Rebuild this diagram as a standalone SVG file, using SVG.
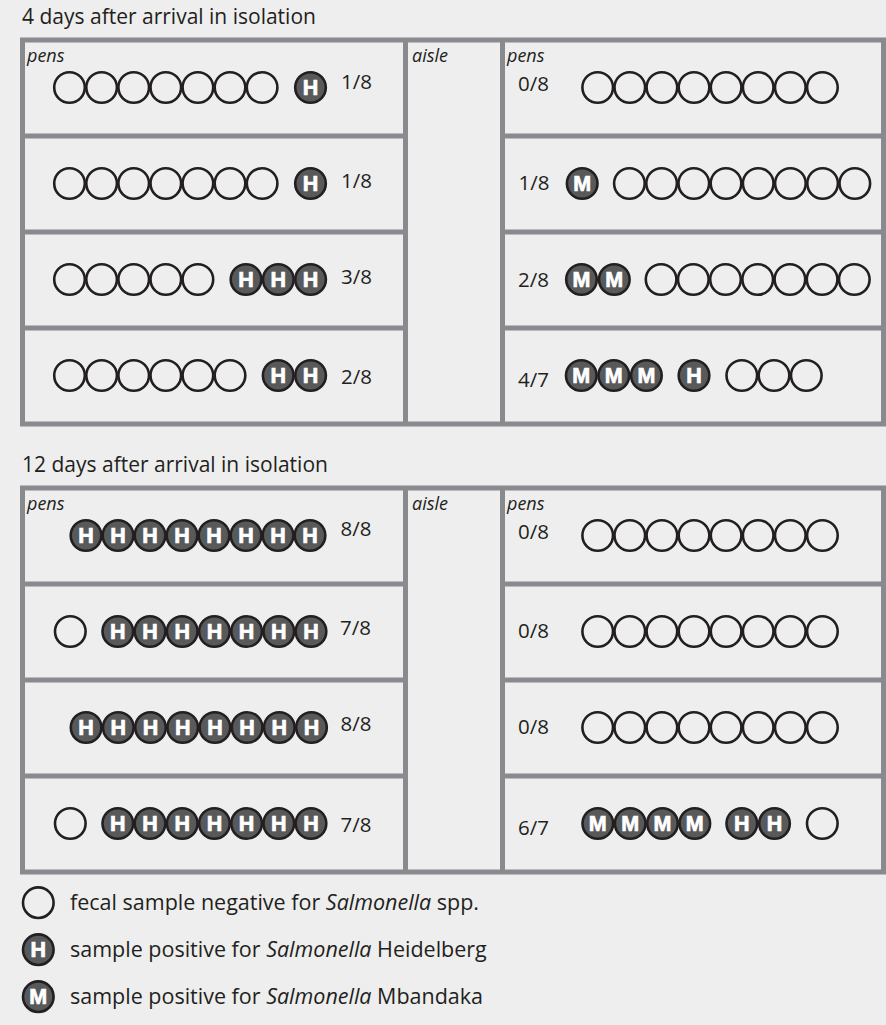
<svg xmlns="http://www.w3.org/2000/svg" width="886" height="1025" viewBox="0 0 886 1025">
<style>
.bg{fill:#eeeeee}
.fr{fill:none;stroke:#898a8d;stroke-width:5}
.n{fill:none;stroke:#231f20;stroke-width:2.6}
.p{fill:#58595b;stroke:#231f20;stroke-width:2.6}
.l{font-family:"Liberation Sans",Arial,sans-serif;font-weight:bold;font-size:21.5px;fill:#ffffff;stroke:#ffffff;stroke-width:0.7;text-anchor:middle}
.t{font-family:"Open Sans","Noto Sans",sans-serif;font-size:21px;fill:#231f20}
.g{font-family:"Open Sans","Noto Sans",sans-serif;font-size:21.5px;fill:#231f20}
.f{font-family:"Open Sans","Noto Sans",sans-serif;font-size:20.5px;fill:#231f20}
.i{font-family:"Open Sans","Noto Sans",sans-serif;font-size:18px;font-style:italic;fill:#231f20}
.it{font-style:italic}
</style>
<rect class="bg" x="0" y="0" width="886" height="1025"/>

<g id="titles">
<text class="t" x="22" y="23.5">4 days after arrival in isolation</text>
<text class="t" x="22" y="472">12 days after arrival in isolation</text>
</g>

<g id="frames">
<rect class="fr" x="22.5" y="40" width="861" height="384"/>
<line class="fr" x1="405.5" y1="40" x2="405.5" y2="424"/>
<line class="fr" x1="502.5" y1="40" x2="502.5" y2="424"/>
<line class="fr" x1="22.5" y1="136" x2="405.5" y2="136"/>
<line class="fr" x1="22.5" y1="232" x2="405.5" y2="232"/>
<line class="fr" x1="22.5" y1="328" x2="405.5" y2="328"/>
<line class="fr" x1="502.5" y1="136" x2="883.5" y2="136"/>
<line class="fr" x1="502.5" y1="232" x2="883.5" y2="232"/>
<line class="fr" x1="502.5" y1="328" x2="883.5" y2="328"/>
<rect class="fr" x="22.5" y="488" width="861" height="384"/>
<line class="fr" x1="405.5" y1="488" x2="405.5" y2="872"/>
<line class="fr" x1="502.5" y1="488" x2="502.5" y2="872"/>
<line class="fr" x1="22.5" y1="584" x2="405.5" y2="584"/>
<line class="fr" x1="22.5" y1="680" x2="405.5" y2="680"/>
<line class="fr" x1="22.5" y1="776" x2="405.5" y2="776"/>
<line class="fr" x1="502.5" y1="584" x2="883.5" y2="584"/>
<line class="fr" x1="502.5" y1="680" x2="883.5" y2="680"/>
<line class="fr" x1="502.5" y1="776" x2="883.5" y2="776"/>
<text class="i" x="27" y="61.5">pens</text>
<text class="i" x="412" y="61.5">aisle</text>
<text class="i" x="507" y="61.5">pens</text>
<text class="i" x="27" y="509.5">pens</text>
<text class="i" x="412" y="509.5">aisle</text>
<text class="i" x="507" y="509.5">pens</text>
</g>

<!-- 4 days, left pens -->
<g id="d4-left-1">
<circle class="n" cx="69.5" cy="87.5" r="15.3"/><circle class="n" cx="101.6" cy="87.5" r="15.3"/><circle class="n" cx="133.7" cy="87.5" r="15.3"/><circle class="n" cx="165.8" cy="87.5" r="15.3"/><circle class="n" cx="197.9" cy="87.5" r="15.3"/><circle class="n" cx="230" cy="87.5" r="15.3"/><circle class="n" cx="262.1" cy="87.5" r="15.3"/>
<circle class="p" cx="310.5" cy="87.5" r="15.3"/><text class="l" x="310.5" y="95.2">H</text>
<text class="f" x="341" y="88.5">1/8</text>
</g>
<g id="d4-left-2">
<circle class="n" cx="69.5" cy="183.5" r="15.3"/><circle class="n" cx="101.6" cy="183.5" r="15.3"/><circle class="n" cx="133.7" cy="183.5" r="15.3"/><circle class="n" cx="165.8" cy="183.5" r="15.3"/><circle class="n" cx="197.9" cy="183.5" r="15.3"/><circle class="n" cx="230" cy="183.5" r="15.3"/><circle class="n" cx="262.1" cy="183.5" r="15.3"/>
<circle class="p" cx="310.5" cy="183.5" r="15.3"/><text class="l" x="310.5" y="191.2">H</text>
<text class="f" x="341" y="187.5">1/8</text>
</g>
<g id="d4-left-3">
<circle class="n" cx="69.5" cy="279.5" r="15.3"/><circle class="n" cx="101.6" cy="279.5" r="15.3"/><circle class="n" cx="133.7" cy="279.5" r="15.3"/><circle class="n" cx="165.8" cy="279.5" r="15.3"/><circle class="n" cx="197.9" cy="279.5" r="15.3"/>
<circle class="p" cx="246" cy="279.5" r="15.3"/><text class="l" x="246" y="287.2">H</text>
<circle class="p" cx="278.3" cy="279.5" r="15.3"/><text class="l" x="278.3" y="287.2">H</text>
<circle class="p" cx="310.6" cy="279.5" r="15.3"/><text class="l" x="310.6" y="287.2">H</text>
<text class="f" x="341" y="283.5">3/8</text>
</g>
<g id="d4-left-4">
<circle class="n" cx="69.5" cy="375.5" r="15.3"/><circle class="n" cx="101.6" cy="375.5" r="15.3"/><circle class="n" cx="133.7" cy="375.5" r="15.3"/><circle class="n" cx="165.8" cy="375.5" r="15.3"/><circle class="n" cx="197.9" cy="375.5" r="15.3"/><circle class="n" cx="230" cy="375.5" r="15.3"/>
<circle class="p" cx="278.2" cy="375.5" r="15.3"/><text class="l" x="278.2" y="383.2">H</text>
<circle class="p" cx="310.6" cy="375.5" r="15.3"/><text class="l" x="310.6" y="383.2">H</text>
<text class="f" x="341" y="383.5">2/8</text>
</g>

<!-- 4 days, right pens -->
<g id="d4-right-1">
<text class="f" x="518" y="91">0/8</text>
<circle class="n" cx="597.7" cy="87.5" r="15.3"/><circle class="n" cx="629.8" cy="87.5" r="15.3"/><circle class="n" cx="661.9" cy="87.5" r="15.3"/><circle class="n" cx="694" cy="87.5" r="15.3"/><circle class="n" cx="726.1" cy="87.5" r="15.3"/><circle class="n" cx="758.2" cy="87.5" r="15.3"/><circle class="n" cx="790.3" cy="87.5" r="15.3"/><circle class="n" cx="822.4" cy="87.5" r="15.3"/>
</g>
<g id="d4-right-2">
<text class="f" x="518.5" y="190">1/8</text>
<circle class="p" cx="582.2" cy="183.5" r="15.3"/><text class="l" x="582.2" y="191.2">M</text>
<circle class="n" cx="629.4" cy="183.5" r="15.3"/><circle class="n" cx="661.6" cy="183.5" r="15.3"/><circle class="n" cx="693.8" cy="183.5" r="15.3"/><circle class="n" cx="726" cy="183.5" r="15.3"/><circle class="n" cx="758.2" cy="183.5" r="15.3"/><circle class="n" cx="790.4" cy="183.5" r="15.3"/><circle class="n" cx="822.6" cy="183.5" r="15.3"/><circle class="n" cx="854.8" cy="183.5" r="15.3"/>
</g>
<g id="d4-right-3">
<text class="f" x="518" y="286.5">2/8</text>
<circle class="p" cx="581.5" cy="279.5" r="15.3"/><text class="l" x="581.5" y="287.2">M</text>
<circle class="p" cx="614.3" cy="279.5" r="15.3"/><text class="l" x="614.3" y="287.2">M</text>
<circle class="n" cx="661.1" cy="279.5" r="15.3"/><circle class="n" cx="693.3" cy="279.5" r="15.3"/><circle class="n" cx="725.5" cy="279.5" r="15.3"/><circle class="n" cx="757.7" cy="279.5" r="15.3"/><circle class="n" cx="789.9" cy="279.5" r="15.3"/><circle class="n" cx="822.1" cy="279.5" r="15.3"/><circle class="n" cx="854.3" cy="279.5" r="15.3"/>
</g>
<g id="d4-right-4">
<text class="f" x="518" y="387">4/7</text>
<circle class="p" cx="581.3" cy="375.5" r="15.3"/><text class="l" x="581.3" y="383.2">M</text>
<circle class="p" cx="613.8" cy="375.5" r="15.3"/><text class="l" x="613.8" y="383.2">M</text>
<circle class="p" cx="646.4" cy="375.5" r="15.3"/><text class="l" x="646.4" y="383.2">M</text>
<circle class="p" cx="694" cy="375.5" r="15.3"/><text class="l" x="694" y="383.2">H</text>
<circle class="n" cx="741.8" cy="375.5" r="15.3"/><circle class="n" cx="774" cy="375.5" r="15.3"/><circle class="n" cx="806.3" cy="375.5" r="15.3"/>
</g>

<!-- 12 days, left pens -->
<g id="d12-left-1">
<circle class="p" cx="86" cy="535.5" r="15.3"/><text class="l" x="86" y="543.2">H</text>
<circle class="p" cx="118" cy="535.5" r="15.3"/><text class="l" x="118" y="543.2">H</text>
<circle class="p" cx="150" cy="535.5" r="15.3"/><text class="l" x="150" y="543.2">H</text>
<circle class="p" cx="182" cy="535.5" r="15.3"/><text class="l" x="182" y="543.2">H</text>
<circle class="p" cx="214" cy="535.5" r="15.3"/><text class="l" x="214" y="543.2">H</text>
<circle class="p" cx="246" cy="535.5" r="15.3"/><text class="l" x="246" y="543.2">H</text>
<circle class="p" cx="278" cy="535.5" r="15.3"/><text class="l" x="278" y="543.2">H</text>
<circle class="p" cx="310" cy="535.5" r="15.3"/><text class="l" x="310" y="543.2">H</text>
<text class="f" x="340.5" y="536">8/8</text>
</g>
<g id="d12-left-2">
<circle class="n" cx="70.3" cy="631.5" r="15.3"/>
<circle class="p" cx="117.8" cy="631.5" r="15.3"/><text class="l" x="117.8" y="639.2">H</text>
<circle class="p" cx="150" cy="631.5" r="15.3"/><text class="l" x="150" y="639.2">H</text>
<circle class="p" cx="182.2" cy="631.5" r="15.3"/><text class="l" x="182.2" y="639.2">H</text>
<circle class="p" cx="214.4" cy="631.5" r="15.3"/><text class="l" x="214.4" y="639.2">H</text>
<circle class="p" cx="246.6" cy="631.5" r="15.3"/><text class="l" x="246.6" y="639.2">H</text>
<circle class="p" cx="278.8" cy="631.5" r="15.3"/><text class="l" x="278.8" y="639.2">H</text>
<circle class="p" cx="311" cy="631.5" r="15.3"/><text class="l" x="311" y="639.2">H</text>
<text class="f" x="340" y="635">7/8</text>
</g>
<g id="d12-left-3">
<circle class="p" cx="86.1" cy="727.5" r="15.3"/><text class="l" x="86.1" y="735.2">H</text>
<circle class="p" cx="118.3" cy="727.5" r="15.3"/><text class="l" x="118.3" y="735.2">H</text>
<circle class="p" cx="150.5" cy="727.5" r="15.3"/><text class="l" x="150.5" y="735.2">H</text>
<circle class="p" cx="182.7" cy="727.5" r="15.3"/><text class="l" x="182.7" y="735.2">H</text>
<circle class="p" cx="214.9" cy="727.5" r="15.3"/><text class="l" x="214.9" y="735.2">H</text>
<circle class="p" cx="247.1" cy="727.5" r="15.3"/><text class="l" x="247.1" y="735.2">H</text>
<circle class="p" cx="279.3" cy="727.5" r="15.3"/><text class="l" x="279.3" y="735.2">H</text>
<circle class="p" cx="311.5" cy="727.5" r="15.3"/><text class="l" x="311.5" y="735.2">H</text>
<text class="f" x="340.5" y="731">8/8</text>
</g>
<g id="d12-left-4">
<circle class="n" cx="70.3" cy="823.5" r="15.3"/>
<circle class="p" cx="117.8" cy="823.5" r="15.3"/><text class="l" x="117.8" y="831.2">H</text>
<circle class="p" cx="150" cy="823.5" r="15.3"/><text class="l" x="150" y="831.2">H</text>
<circle class="p" cx="182.2" cy="823.5" r="15.3"/><text class="l" x="182.2" y="831.2">H</text>
<circle class="p" cx="214.4" cy="823.5" r="15.3"/><text class="l" x="214.4" y="831.2">H</text>
<circle class="p" cx="246.6" cy="823.5" r="15.3"/><text class="l" x="246.6" y="831.2">H</text>
<circle class="p" cx="278.8" cy="823.5" r="15.3"/><text class="l" x="278.8" y="831.2">H</text>
<circle class="p" cx="311" cy="823.5" r="15.3"/><text class="l" x="311" y="831.2">H</text>
<text class="f" x="340.5" y="831.5">7/8</text>
</g>

<!-- 12 days, right pens -->
<g id="d12-right-1">
<text class="f" x="518" y="539">0/8</text>
<circle class="n" cx="597.7" cy="535.5" r="15.3"/><circle class="n" cx="629.8" cy="535.5" r="15.3"/><circle class="n" cx="661.9" cy="535.5" r="15.3"/><circle class="n" cx="694" cy="535.5" r="15.3"/><circle class="n" cx="726.1" cy="535.5" r="15.3"/><circle class="n" cx="758.2" cy="535.5" r="15.3"/><circle class="n" cx="790.3" cy="535.5" r="15.3"/><circle class="n" cx="822.4" cy="535.5" r="15.3"/>
</g>
<g id="d12-right-2">
<text class="f" x="518" y="638">0/8</text>
<circle class="n" cx="597.7" cy="631.5" r="15.3"/><circle class="n" cx="629.8" cy="631.5" r="15.3"/><circle class="n" cx="661.9" cy="631.5" r="15.3"/><circle class="n" cx="694" cy="631.5" r="15.3"/><circle class="n" cx="726.1" cy="631.5" r="15.3"/><circle class="n" cx="758.2" cy="631.5" r="15.3"/><circle class="n" cx="790.3" cy="631.5" r="15.3"/><circle class="n" cx="822.4" cy="631.5" r="15.3"/>
</g>
<g id="d12-right-3">
<text class="f" x="518" y="734">0/8</text>
<circle class="n" cx="597.7" cy="727.5" r="15.3"/><circle class="n" cx="629.8" cy="727.5" r="15.3"/><circle class="n" cx="661.9" cy="727.5" r="15.3"/><circle class="n" cx="694" cy="727.5" r="15.3"/><circle class="n" cx="726.1" cy="727.5" r="15.3"/><circle class="n" cx="758.2" cy="727.5" r="15.3"/><circle class="n" cx="790.3" cy="727.5" r="15.3"/><circle class="n" cx="822.4" cy="727.5" r="15.3"/>
</g>
<g id="d12-right-4">
<text class="f" x="518" y="835">6/7</text>
<circle class="p" cx="597.8" cy="823.5" r="15.3"/><text class="l" x="597.8" y="831.2">M</text>
<circle class="p" cx="630.2" cy="823.5" r="15.3"/><text class="l" x="630.2" y="831.2">M</text>
<circle class="p" cx="662.5" cy="823.5" r="15.3"/><text class="l" x="662.5" y="831.2">M</text>
<circle class="p" cx="694.8" cy="823.5" r="15.3"/><text class="l" x="694.8" y="831.2">M</text>
<circle class="p" cx="741.8" cy="823.5" r="15.3"/><text class="l" x="741.8" y="831.2">H</text>
<circle class="p" cx="774.5" cy="823.5" r="15.3"/><text class="l" x="774.5" y="831.2">H</text>
<circle class="n" cx="822.3" cy="823.5" r="15.3"/>
</g>

<!-- legend -->
<g id="legend-negative">
<circle class="n" cx="38.3" cy="902.7" r="15.3"/>
<text class="g" x="70" y="909.7">fecal sample negative for <tspan class="it">Salmonella</tspan> spp.</text>
</g>
<g id="legend-heidelberg">
<circle class="p" cx="38.3" cy="949.7" r="15.3"/><text class="l" x="38.3" y="957.4">H</text>
<text class="g" x="70" y="956.7">sample positive for <tspan class="it">Salmonella</tspan> Heidelberg</text>
</g>
<g id="legend-mbandaka">
<circle class="p" cx="38.3" cy="996.7" r="15.3"/><text class="l" x="38.3" y="1004.4">M</text>
<text class="g" x="70" y="1003.7">sample positive for <tspan class="it">Salmonella</tspan> Mbandaka</text>
</g>
<g id="connectors"></g>
</svg>
